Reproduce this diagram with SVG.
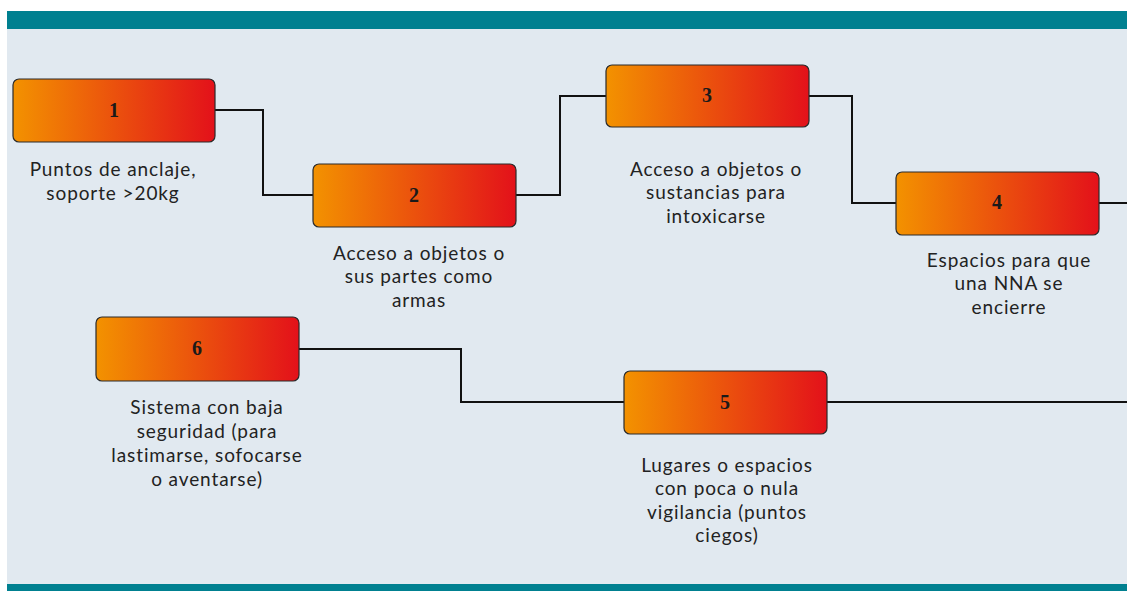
<svg xmlns="http://www.w3.org/2000/svg" width="1127" height="591" viewBox="0 0 1127 591">
<defs>
<linearGradient id="g" x1="0" y1="0" x2="1" y2="0">
<stop offset="0" stop-color="#f39200"/>
<stop offset="1" stop-color="#e3111a"/>
</linearGradient>
<style>
.box{fill:url(#g);stroke:#2a2a2a;stroke-width:1.2}
.num{font-family:"Liberation Serif",serif;font-weight:bold;font-size:20px;fill:#1a1a1a;text-anchor:middle}
.lbl{font-family:"Lato","Open Sans",sans-serif;font-size:19px;letter-spacing:0.9px;fill:#222;text-anchor:middle}
.con{fill:none;stroke:#111;stroke-width:2}
</style>
</defs>
<rect x="0" y="0" width="1127" height="591" fill="#ffffff"/>
<rect x="7" y="29" width="1120" height="555" fill="#e1e9f0"/>
<rect x="7" y="11" width="1120" height="18" fill="#008090"/>
<rect x="7" y="584" width="1120" height="7" fill="#008090"/>
<g id="connectors">
<polyline class="con" points="215,110 263,110 263,195 313,195"/>
<polyline class="con" points="516,195 560,195 560,96 606,96"/>
<polyline class="con" points="809,96 852,96 852,203 896,203"/>
<polyline class="con" points="1099,203 1127,203"/>
<polyline class="con" points="1127,402 827,402"/>
<polyline class="con" points="624,402 461,402 461,349 299,349"/>
</g>
<g id="node1">
<rect class="box" x="13" y="79" width="202" height="63" rx="6"/>
<text class="num" x="114" y="117">1</text>
<text class="lbl"><tspan x="113" y="176">Puntos de anclaje,</tspan><tspan x="113" y="200">soporte &gt;20kg</tspan></text>
</g>
<g id="node2">
<rect class="box" x="313" y="164" width="203" height="63" rx="6"/>
<text class="num" x="414" y="202">2</text>
<text class="lbl"><tspan x="419" y="260">Acceso a objetos o</tspan><tspan x="419" y="283">sus partes como</tspan><tspan x="419" y="307">armas</tspan></text>
</g>
<g id="node3">
<rect class="box" x="606" y="65" width="203" height="62" rx="6"/>
<text class="num" x="707" y="102">3</text>
<text class="lbl"><tspan x="716" y="176">Acceso a objetos o</tspan><tspan x="716" y="199">sustancias para</tspan><tspan x="716" y="223">intoxicarse</tspan></text>
</g>
<g id="node4">
<rect class="box" x="896" y="172" width="203" height="63" rx="6"/>
<text class="num" x="997" y="209">4</text>
<text class="lbl"><tspan x="1009" y="267">Espacios para que</tspan><tspan x="1009" y="290">una NNA se</tspan><tspan x="1009" y="314">encierre</tspan></text>
</g>
<g id="node5">
<rect class="box" x="624" y="371" width="203" height="63" rx="6"/>
<text class="num" x="725" y="409">5</text>
<text class="lbl"><tspan x="727" y="472">Lugares o espacios</tspan><tspan x="727" y="495">con poca o nula</tspan><tspan x="727" y="519">vigilancia (puntos</tspan><tspan x="727" y="542">ciegos)</tspan></text>
</g>
<g id="node6">
<rect class="box" x="96" y="317" width="203" height="64" rx="6"/>
<text class="num" x="197" y="355">6</text>
<text class="lbl"><tspan x="207" y="414">Sistema con baja</tspan><tspan x="207" y="438">seguridad (para</tspan><tspan x="207" y="462">lastimarse, sofocarse</tspan><tspan x="207" y="486">o aventarse)</tspan></text>
</g>
</svg>
